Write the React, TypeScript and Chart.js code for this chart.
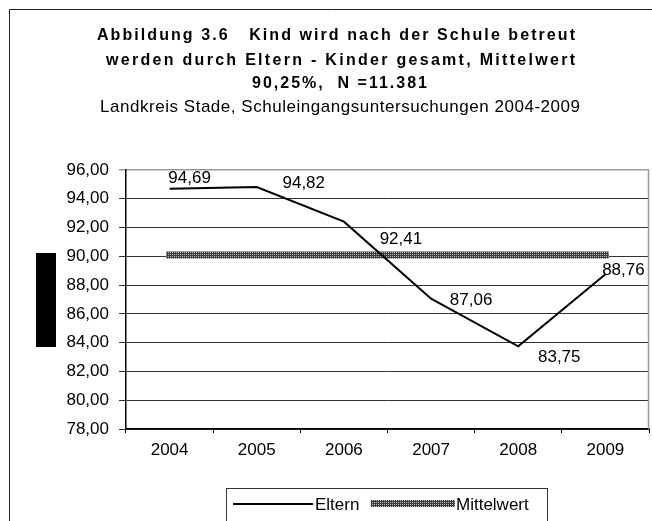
import { useEffect, useRef } from "react";
import { Chart, registerables } from "chart.js";

Chart.register(...registerables);

const years = ["2004", "2005", "2006", "2007", "2008", "2009"];
const elternValues = [94.69, 94.82, 92.41, 87.06, 83.75, 88.76];
const mittelwertValues = [90.1, 90.1, 90.1, 90.1, 90.1, 90.1];
const seriesNames = ["Eltern", "Mittelwert"];
const yMin = 78;
const yMax = 96;
const yStep = 2;

const titleLines = [
  "Abbildung 3.6   Kind wird nach der Schule betreut",
  "werden durch Eltern - Kinder gesamt, Mittelwert",
  "90,25%,  N =11.381",
];
const subtitle = "Landkreis Stade, Schuleingangsuntersuchungen 2004-2009";

// label placement offsets (style, px)
const labelDx = [20, 47, 57, 40, 41, 18];
const labelDy = [-12, -5, 16, 0, 10, -5];

const FONT = '"Liberation Sans", Arial, sans-serif';

const fmt = (v: number) => v.toFixed(2).replace(".", ",");

function makePattern(): CanvasPattern | string {
  const c = document.createElement("canvas");
  c.width = 2;
  c.height = 2;
  const g = c.getContext("2d");
  if (!g) return "#666";
  g.fillStyle = "#3c3c3c";
  g.fillRect(0, 0, 2, 2);
  g.fillStyle = "#b8b8b8";
  g.fillRect(0, 0, 1, 1);
  const p = g.createPattern(c, "repeat");
  return p || "#666";
}

function drawFitted(ctx: CanvasRenderingContext2D, text: string, cx: number, y: number, target: number) {
  (ctx as any).letterSpacing = "0px";
  const w = ctx.measureText(text).width;
  const n = text.length;
  const sp = n > 1 ? (target - w) / (n - 1) : 0;
  (ctx as any).letterSpacing = sp + "px";
  ctx.textAlign = "left";
  ctx.textBaseline = "alphabetic";
  ctx.fillText(text, cx - target / 2, y);
  (ctx as any).letterSpacing = "0px";
}

export default function App() {
  const ref = useRef<HTMLCanvasElement | null>(null);

  useEffect(() => {
    document.body.style.margin = "0";
    const canvas = ref.current;
    if (!canvas) return;
    const pattern = makePattern();

    const decor = {
      id: "decor",
      beforeDraw(chart: any) {
        const ctx = chart.ctx as CanvasRenderingContext2D;
        ctx.save();
        ctx.fillStyle = "#fff";
        ctx.fillRect(0, 0, chart.width, chart.height);
        // outer frame
        ctx.strokeStyle = "#222";
        ctx.lineWidth = 1;
        ctx.beginPath();
        ctx.moveTo(9.5, chart.height + 2);
        ctx.lineTo(9.5, 9.5);
        ctx.lineTo(chart.width + 2, 9.5);
        ctx.stroke();
        // titles
        ctx.fillStyle = "#000";
        ctx.font = "bold 16px " + FONT;
        drawFitted(ctx, titleLines[0], 336, 40, 478);
        drawFitted(ctx, titleLines[1], 340.5, 65, 469);
        drawFitted(ctx, titleLines[2], 339.5, 88, 175);
        ctx.font = "17px " + FONT;
        drawFitted(ctx, subtitle, 340, 112, 480);
        // black block (axis title artifact)
        ctx.fillStyle = "#000";
        ctx.fillRect(36, 253, 20, 94);
        ctx.restore();
      },
      afterDraw(chart: any) {
        const ctx = chart.ctx as CanvasRenderingContext2D;
        const a = chart.chartArea;
        ctx.save();
        // right border of plot area
        ctx.strokeStyle = "#999";
        ctx.lineWidth = 1.5;
        ctx.beginPath();
        ctx.moveTo(a.right - 0.5, a.top);
        ctx.lineTo(a.right - 0.5, a.bottom);
        ctx.stroke();
        // data labels
        const meta = chart.getDatasetMeta(0);
        ctx.fillStyle = "#000";
        ctx.font = "17px " + FONT;
        ctx.textAlign = "center";
        ctx.textBaseline = "alphabetic";
        meta.data.forEach((el: any, i: number) => {
          ctx.fillText(fmt(elternValues[i]), el.x + labelDx[i], el.y + labelDy[i] + 6);
        });
        // legend
        ctx.strokeStyle = "#333";
        ctx.lineWidth = 1;
        ctx.strokeRect(226.5, 488.5, 321, 40);
        ctx.strokeStyle = "#000";
        ctx.lineWidth = 2;
        ctx.beginPath();
        ctx.moveTo(233, 504);
        ctx.lineTo(313, 504);
        ctx.stroke();
        ctx.textAlign = "left";
        ctx.fillText(seriesNames[0], 315, 510);
        ctx.fillStyle = pattern as any;
        ctx.fillRect(371, 500, 84, 7);
        ctx.fillStyle = "#000";
        ctx.fillText(seriesNames[1], 456, 510);
        ctx.restore();
      },
    };

    const chart = new Chart(canvas, {
      type: "line",
      data: {
        labels: years,
        datasets: [
          {
            label: seriesNames[0],
            data: elternValues,
            borderColor: "#000",
            borderWidth: 2,
            pointRadius: 0,
            tension: 0,
            fill: false,
            order: 0,
          },
          {
            label: seriesNames[1],
            data: mittelwertValues,
            borderColor: pattern as any,
            borderWidth: 7,
            borderCapStyle: "square",
            pointRadius: 0,
            tension: 0,
            fill: false,
            order: 1,
          },
        ],
      },
      options: {
        responsive: false,
        animation: false,
        devicePixelRatio: 1,
        layout: { padding: { top: 170, right: 3, left: 0, bottom: 0 } },
        plugins: {
          legend: { display: false },
          title: { display: false },
          tooltip: { enabled: false },
        },
        scales: {
          x: {
            offset: true,
            afterFit: (s: any) => {
              s.height = 92;
            },
            grid: {
              display: true,
              offset: true,
              drawOnChartArea: false,
              drawTicks: true,
              tickLength: 4,
              color: "#000",
            },
            border: { display: true, color: "#000", width: 1.5 },
            ticks: {
              color: "#000",
              font: { family: FONT, size: 17 },
              padding: 7,
              maxRotation: 0,
              autoSkip: false,
            },
          },
          y: {
            min: yMin,
            max: yMax,
            afterFit: (s: any) => {
              s.width = 126;
            },
            grid: {
              color: (c: any) => (c.tick && c.tick.value === yMax ? "#999" : "#333"),
              lineWidth: (c: any) => (c.tick && c.tick.value === yMax ? 1.5 : 1),
              tickLength: 7,
              drawTicks: true,
            },
            border: { display: true, color: "#000", width: 1.5 },
            ticks: {
              stepSize: yStep,
              color: "#000",
              font: { family: FONT, size: 17 },
              padding: 10,
              callback: (v: any) => fmt(Number(v)),
            },
          },
        },
      },
      plugins: [decor],
    });

    return () => {
      chart.destroy();
    };
  }, []);

  return (
    <canvas
      ref={ref}
      width={652}
      height={521}
      style={{ display: "block", width: 652, height: 521 }}
    />
  );
}
